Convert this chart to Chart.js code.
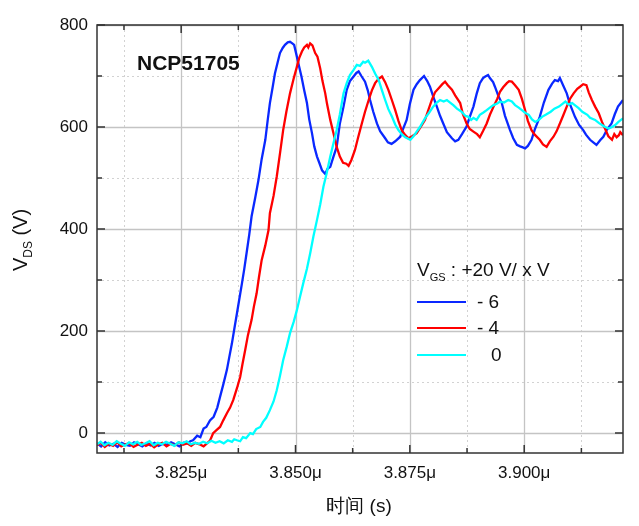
<!DOCTYPE html>
<html lang="zh">
  <head>
    <meta charset="UTF-8" />
    <title>NCP51705 VDS</title>
    <script src="https://cdn.jsdelivr.net/npm/chart.js@4.4.0/dist/chart.umd.min.js"></script>
    <style>
      body { margin: 0; background: #fff; }
      .wrap { width: 639px; height: 526px; position: relative; }
    </style>
  </head>
  <body>
    <div class="wrap"><canvas id="vds"></canvas></div>
    <script>
      // time in ns, V_DS in volts
      const blue = [[3806.6,-20],[3807.5,-26],[3808.4,-18],[3809.3,-24],[3810.2,-21],[3811.1,-27],[3812.0,-19],[3812.9,-23],[3813.8,-25],[3814.7,-18],[3815.6,-22],[3816.5,-26],[3817.4,-20],[3818.3,-24],[3819.2,-19],[3820.1,-25],[3821.0,-21],[3821.9,-23],[3822.8,-18],[3823.7,-22],[3824.6,-26],[3825.5,-19],[3826.4,-20],[3827.0,-16],[3827.6,-14],[3828.5,-5],[3829.2,-8],[3829.9,9],[3830.5,12],[3831.3,25],[3832.1,32],[3832.9,50],[3833.5,71],[3834.2,95],[3835.0,124],[3835.5,148],[3836.1,176],[3836.6,203],[3837.2,235],[3837.7,262],[3838.3,294],[3838.8,322],[3839.4,359],[3839.9,390],[3840.4,425],[3841.2,462],[3841.9,496],[3842.6,537],[3843.4,575],[3843.9,612],[3844.4,647],[3845.0,678],[3845.5,705],[3846.1,727],[3846.6,745],[3847.2,755],[3847.7,761],[3848.3,766],[3848.8,767],[3849.3,764],[3849.7,761],[3850.3,738],[3850.8,718],[3851.3,699],[3851.9,672],[3852.5,647],[3853.0,615],[3853.6,588],[3854.1,562],[3854.7,542],[3855.2,530],[3855.8,515],[3856.5,508],[3857.0,518],[3857.6,522],[3858.3,542],[3859.0,561],[3859.7,607],[3860.5,640],[3861.2,673],[3861.9,690],[3862.7,699],[3863.3,706],[3863.8,709],[3864.4,700],[3865.2,689],[3865.8,672],[3866.3,653],[3867.0,630],[3867.8,607],[3868.5,592],[3869.6,578],[3870.2,570],[3871.0,567],[3871.8,572],[3872.9,581],[3873.5,596],[3874.3,614],[3875.0,645],[3875.8,673],[3876.5,684],[3877.2,692],[3878.1,700],[3878.8,690],[3879.4,679],[3880.1,660],[3880.9,640],[3881.6,622],[3882.3,607],[3883.1,590],[3884.2,578],[3884.9,572],[3885.6,575],[3886.4,586],[3887.4,601],[3888.1,620],[3888.9,640],[3889.6,665],[3890.3,686],[3891.0,696],[3891.5,699],[3892.1,702],[3892.5,696],[3893.2,688],[3893.6,679],[3894.3,662],[3895.1,647],[3895.8,622],[3896.9,594],[3897.6,578],[3898.4,565],[3899.1,562],[3899.7,560],[3900.2,558],[3900.8,563],[3901.6,575],[3902.3,595],[3903.4,620],[3904.3,648],[3905.3,673],[3906.1,685],[3906.7,692],[3907.4,690],[3907.8,696],[3908.5,682],[3909.3,666],[3910.0,645],[3911.1,620],[3912.0,604],[3912.9,594],[3913.5,585],[3914.4,575],[3915.1,570],[3915.8,565],[3916.6,574],[3917.3,581],[3918.1,595],[3919.1,607],[3919.8,625],[3920.5,640],[3921.6,653]];

      const red = [[3806.6,-24],[3807.4,-19],[3808.3,-27],[3809.2,-21],[3810.1,-25],[3811.0,-18],[3811.9,-26],[3812.8,-22],[3813.7,-20],[3814.6,-27],[3815.5,-23],[3816.4,-19],[3817.3,-25],[3818.2,-21],[3819.1,-28],[3820.0,-22],[3820.9,-19],[3821.8,-26],[3822.7,-21],[3823.6,-24],[3824.5,-18],[3825.4,-23],[3826.3,-20],[3827.2,-25],[3828.1,-19],[3829.0,-22],[3829.9,-26],[3830.9,-18],[3831.3,-15],[3832.0,0],[3832.6,5],[3833.5,12],[3834.2,25],[3835.0,39],[3835.7,50],[3836.4,65],[3837.2,88],[3837.9,110],[3838.4,135],[3839.0,163],[3839.6,192],[3840.4,222],[3840.9,248],[3841.5,274],[3842.0,305],[3842.6,339],[3843.4,368],[3844.1,398],[3844.4,431],[3845.2,465],[3845.9,503],[3846.6,548],[3847.3,594],[3848.0,630],[3848.8,666],[3849.6,695],[3850.3,718],[3850.8,735],[3851.4,748],[3851.9,756],[3852.5,761],[3852.8,756],[3853.2,764],[3853.7,760],[3854.3,745],[3854.8,738],[3855.4,715],[3855.9,690],[3856.5,666],[3856.9,645],[3857.6,614],[3858.3,588],[3859.0,561],[3859.7,542],[3860.4,530],[3861.1,528],[3861.6,524],[3862.2,535],[3863.0,555],[3863.7,580],[3864.5,607],[3865.2,630],[3866.0,653],[3866.7,672],[3867.4,686],[3868.1,694],[3868.9,699],[3869.6,688],[3870.3,673],[3871.1,652],[3871.8,633],[3872.5,612],[3873.2,594],[3874.0,584],[3874.7,578],[3875.5,582],[3876.5,588],[3877.2,598],[3878.3,614],[3879.0,632],[3879.8,653],[3880.5,668],[3881.3,676],[3882.1,684],[3882.7,689],[3883.3,682],[3884.2,673],[3884.9,662],[3886.0,647],[3886.6,625],[3887.4,607],[3888.1,596],[3888.9,591],[3889.7,586],[3890.3,580],[3891.0,592],[3891.8,607],[3892.5,624],[3893.3,640],[3894.1,655],[3894.7,669],[3895.4,678],[3896.2,686],[3896.7,690],[3897.3,689],[3898.0,682],[3898.8,673],[3899.5,655],[3900.2,633],[3900.8,612],[3901.6,594],[3902.3,585],[3903.4,575],[3904.1,566],[3904.9,561],[3905.6,572],[3906.4,581],[3907.1,592],[3907.8,607],[3908.5,622],[3909.3,640],[3910.0,655],[3910.8,666],[3911.6,675],[3912.2,679],[3912.9,684],[3913.6,682],[3914.1,668],[3914.8,653],[3915.5,640],[3916.3,627],[3917.0,610],[3917.8,594],[3918.4,582],[3919.2,575],[3919.7,586],[3920.2,580],[3920.7,584],[3921.0,590],[3921.6,584]];

      const cyan = [[3806.6,-22],[3807.4,-17],[3808.2,-24],[3809.1,-19],[3810.0,-23],[3810.9,-16],[3811.8,-21],[3812.7,-25],[3813.6,-18],[3814.5,-22],[3815.4,-17],[3816.3,-23],[3817.2,-20],[3818.1,-16],[3819.0,-24],[3819.9,-19],[3820.8,-22],[3821.7,-17],[3822.6,-21],[3823.5,-25],[3824.4,-18],[3825.3,-20],[3826.2,-16],[3827.1,-22],[3828.0,-19],[3828.9,-21],[3829.8,-17],[3830.7,-20],[3831.6,-15],[3832.5,-19],[3833.4,-16],[3834.3,-20],[3835.2,-14],[3836.1,-17],[3836.6,-12],[3837.2,-14],[3837.9,-16],[3838.5,-8],[3839.2,-10],[3840.1,0],[3840.7,-2],[3841.4,8],[3842.3,12],[3842.9,22],[3843.6,30],[3844.4,45],[3845.2,62],[3845.9,84],[3846.6,112],[3847.3,143],[3848.1,170],[3848.8,196],[3849.6,218],[3850.3,241],[3851.0,268],[3851.7,294],[3852.5,322],[3853.2,352],[3853.9,385],[3854.7,418],[3855.4,448],[3856.1,483],[3856.8,509],[3857.6,542],[3858.3,568],[3859.0,594],[3859.7,625],[3860.5,666],[3861.2,686],[3861.9,702],[3862.7,712],[3863.4,722],[3864.1,720],[3864.8,728],[3865.2,726],[3865.9,730],[3866.7,718],[3867.4,705],[3868.2,692],[3868.9,672],[3869.6,653],[3870.3,635],[3871.1,620],[3871.8,605],[3872.5,594],[3873.3,585],[3874.0,580],[3875.1,575],[3875.8,582],[3876.5,591],[3877.2,600],[3878.3,617],[3879.2,628],[3880.1,640],[3880.9,648],[3881.6,653],[3882.4,650],[3883.1,653],[3883.8,648],[3884.5,643],[3885.3,636],[3886.3,630],[3887.1,622],[3887.8,620],[3888.4,614],[3888.9,618],[3889.6,614],[3890.3,624],[3891.0,628],[3891.8,633],[3892.5,638],[3893.3,643],[3894.1,646],[3894.7,650],[3895.6,648],[3896.5,653],[3897.3,650],[3898.0,643],[3898.8,638],[3899.5,633],[3900.2,628],[3901.0,624],[3901.7,615],[3902.4,610],[3903.2,614],[3903.9,620],[3904.7,624],[3905.8,630],[3906.6,636],[3907.6,640],[3908.3,645],[3909.0,650],[3909.7,644],[3910.5,647],[3911.2,642],[3911.9,637],[3912.7,630],[3913.8,624],[3914.4,618],[3915.5,614],[3916.3,608],[3917.0,604],[3917.7,600],[3918.5,597],[3919.2,600],[3919.9,604],[3920.6,610],[3921.6,617]];

      const seriesLabels = ["- 6", "- 4", "0"];
      const seriesColors = ["#0a28ff", "#ff0000", "#00ffff"];
      const xTicks = [3825, 3850, 3875, 3900];
      const xMinor = [3812.5, 3837.5, 3862.5, 3887.5, 3912.5];
      const yTicks = [0, 200, 400, 600, 800];
      const yMinor = [100, 300, 500, 700];

      const FONT = "'Liberation Sans', Arial, sans-serif";

      function toPoints(arr) {
        return arr.map((p) => ({ x: p[0], y: p[1] }));
      }

      // grid, inward ticks, frame and texts
      const framePlugin = {
        id: "frame",
        beforeDatasetsDraw(chart) {
          const { ctx, chartArea: a, scales } = chart;
          const xs = scales.x, ys = scales.y;
          ctx.save();
          ctx.lineWidth = 1;
          ctx.strokeStyle = "#d2d2d2";
          ctx.setLineDash([2, 3]);
          ctx.beginPath();
          xMinor.forEach((v) => {
            const px = Math.round(xs.getPixelForValue(v)) + 0.5;
            ctx.moveTo(px, a.top); ctx.lineTo(px, a.bottom);
          });
          yMinor.forEach((v) => {
            const py = Math.round(ys.getPixelForValue(v)) + 0.5;
            ctx.moveTo(a.left, py); ctx.lineTo(a.right, py);
          });
          ctx.stroke();
          ctx.setLineDash([]);
          ctx.strokeStyle = "#c4c4c4";
          ctx.lineWidth = 1.3;
          ctx.beginPath();
          xTicks.forEach((v) => {
            const px = Math.round(xs.getPixelForValue(v)) + 0.5;
            ctx.moveTo(px, a.top); ctx.lineTo(px, a.bottom);
          });
          yTicks.forEach((v) => {
            const py = Math.round(ys.getPixelForValue(v)) + 0.5;
            ctx.moveTo(a.left, py); ctx.lineTo(a.right, py);
          });
          ctx.stroke();
          ctx.restore();
        },
        afterDatasetsDraw(chart) {
          const { ctx, chartArea: a, scales } = chart;
          const xs = scales.x, ys = scales.y;
          ctx.save();
          ctx.strokeStyle = "#333";
          ctx.lineWidth = 1.5;
          ctx.strokeRect(a.left, a.top, a.right - a.left, a.bottom - a.top);

          // inward ticks on all four sides
          ctx.beginPath();
          const tickX = (v, len) => {
            const px = xs.getPixelForValue(v);
            ctx.moveTo(px, a.bottom); ctx.lineTo(px, a.bottom - len);
            ctx.moveTo(px, a.top); ctx.lineTo(px, a.top + len);
          };
          const tickY = (v, len) => {
            const py = ys.getPixelForValue(v);
            ctx.moveTo(a.left, py); ctx.lineTo(a.left + len, py);
            ctx.moveTo(a.right, py); ctx.lineTo(a.right - len, py);
          };
          xTicks.forEach((v) => tickX(v, 8));
          xMinor.forEach((v) => tickX(v, 5));
          yTicks.forEach((v) => tickY(v, 8));
          yMinor.forEach((v) => tickY(v, 5));
          ctx.stroke();

          ctx.fillStyle = "#111";
          ctx.textBaseline = "alphabetic";

          // title inside the plot
          ctx.font = "bold 21px " + FONT;
          ctx.textAlign = "left";
          ctx.fillText("NCP51705", 137, 70);

          // x axis title
          ctx.font = "19px " + FONT;
          ctx.textAlign = "center";
          ctx.fillText("时间 (s)", 359, 512);

          // y axis title with subscript
          ctx.save();
          ctx.translate(27, 240);
          ctx.rotate(-Math.PI / 2);
          ctx.textAlign = "left";
          ctx.font = "20px " + FONT;
          const wV = ctx.measureText("V").width;
          const wR = ctx.measureText(" (V)").width;
          ctx.font = "12px " + FONT;
          const wS = ctx.measureText("DS").width;
          let x0 = -(wV + wS + wR) / 2;
          ctx.font = "20px " + FONT;
          ctx.fillText("V", x0, 0);
          ctx.font = "12px " + FONT;
          ctx.fillText("DS", x0 + wV, 5);
          ctx.font = "20px " + FONT;
          ctx.fillText(" (V)", x0 + wV + wS, 0);
          ctx.restore();

          // legend
          ctx.textAlign = "left";
          ctx.font = "19px " + FONT;
          ctx.fillText("V", 417, 276);
          const lw = ctx.measureText("V").width;
          ctx.font = "11px " + FONT;
          ctx.fillText("GS", 417 + lw, 281);
          const sw = ctx.measureText("GS").width;
          ctx.font = "19px " + FONT;
          ctx.fillText(" : +20 V/ x V", 417 + lw + sw, 276);

          const rows = [302, 328, 355];
          ctx.lineWidth = 2;
          ctx.textBaseline = "middle";
          chart.data.datasets.forEach((ds, i) => {
            const y = rows[i];
            ctx.strokeStyle = ds.borderColor;
            ctx.beginPath();
            ctx.moveTo(417, y); ctx.lineTo(466, y);
            ctx.stroke();
            const lx = ds.label === "0" ? 491 : 477;
            ctx.fillText(ds.label, lx, y + 1);
          });
          ctx.restore();
        },
      };

      const ctx = document.getElementById("vds").getContext("2d");
      const chart = new Chart(ctx, {
        type: "line",
        data: {
          datasets: [
            { label: seriesLabels[0], data: toPoints(blue), borderColor: seriesColors[0], order: 3 },
            { label: seriesLabels[1], data: toPoints(red), borderColor: seriesColors[1], order: 2 },
            { label: seriesLabels[2], data: toPoints(cyan), borderColor: seriesColors[2], order: 1 },
          ],
        },
        options: {
          responsive: true,
          maintainAspectRatio: false,
          animation: false,
          layout: { padding: { top: 25, right: 16, left: 0, bottom: 0 } },
          elements: {
            point: { radius: 0 },
            line: { borderWidth: 2.3, tension: 0 },
          },
          plugins: {
            legend: { display: false },
            tooltip: { enabled: false },
          },
          scales: {
            x: {
              type: "linear",
              min: 3806.6,
              max: 3921.6,
              afterBuildTicks: (s) => { s.ticks = xTicks.map((v) => ({ value: v })); },
              afterFit: (s) => { s.height = 73; },
              grid: { display: false, drawTicks: false },
              border: { display: false },
              ticks: {
                padding: 10,
                color: "#111",
                font: { family: FONT, size: 17 },
                maxRotation: 0,
                callback: (v) => (v / 1000).toFixed(3) + "μ",
              },
            },
            y: {
              min: -39,
              max: 800,
              afterBuildTicks: (s) => { s.ticks = yTicks.map((v) => ({ value: v })); },
              afterFit: (s) => { s.width = 97; },
              grid: { display: false, drawTicks: false },
              border: { display: false },
              ticks: {
                padding: 9,
                color: "#111",
                font: { family: FONT, size: 17 },
              },
            },
          },
        },
        plugins: [framePlugin],
      });
    </script>
  </body>
</html>
